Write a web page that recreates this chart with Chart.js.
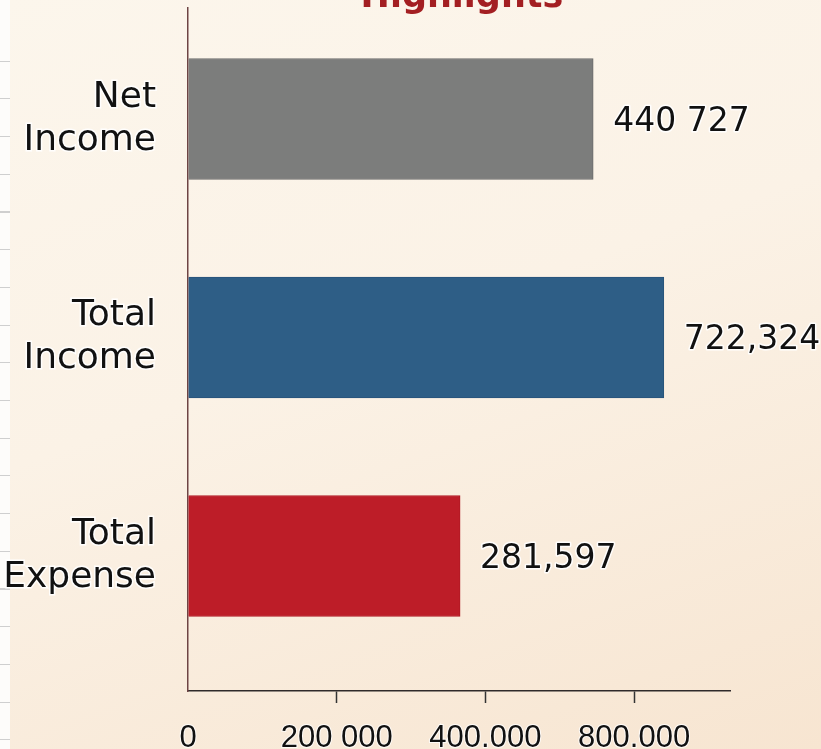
<!DOCTYPE html>
<html lang="en">

<head>
    <meta charset="UTF-8">
    <title>Highlights</title>
    <script src="https://cdn.jsdelivr.net/npm/chart.js"></script>
    <style>
        html, body {
            margin: 0;
            padding: 0;
        }
        .page {
            position: relative;
            width: 821px;
            height: 749px;
            overflow: hidden;
            background: linear-gradient(160deg, #fcf6ec 0%, #fbf2e6 45%, #f7e5d1 100%);
        }
        /* ruled strip at the left edge of the page */
        .strip {
            position: absolute;
            left: 0;
            top: 0;
            width: 10px;
            height: 749px;
            background-color: #fdfcfa;
            background-image: repeating-linear-gradient(to bottom, transparent 0, transparent 36.6px, #cfcfcf 36.6px, #cfcfcf 37.7px);
            background-position: 0 24px;
        }
        #myChart {
            position: absolute;
            left: 0;
            top: 0;
        }
    </style>
</head>

<body>

    <div class="page">
        <div class="strip"></div>
        <canvas id="myChart" width="821" height="749"></canvas>
    </div>

    <script>
        // 資料
        const chartTitle = 'Highlights';
        const categories = [['Net', 'Income'], ['Total', 'Income'], ['Total', 'Expense']];
        const barValues = [545000, 640000, 366000];          // bar length read against the x axis
        const valueLabels = ['440 727', '722,324', '281,597']; // numbers printed beside the bars
        const barColors = ['#7c7d7c', '#2e5e86', '#bd1d28'];
        const tickValues = [0, 200000, 400000, 600000];
        const tickLabels = ['0', '200 000', '400.000', '800.000'];

        // 標題與數值標籤
        const labelPlugin = {
            id: 'labelPlugin',
            afterDatasetsDraw(chart) {
                const ctx = chart.ctx;
                const area = chart.chartArea;
                ctx.save();
                ctx.font = 'bold 35px "DejaVu Sans"';
                ctx.fillStyle = '#a31f22';
                ctx.textAlign = 'center';
                ctx.textBaseline = 'alphabetic';
                ctx.fillText(chartTitle, (area.left + area.right) / 2 + 3, 7);

                ctx.font = '33px "DejaVu Sans"';
                ctx.textAlign = 'left';
                ctx.lineJoin = 'round';
                ctx.lineWidth = 3;
                ctx.strokeStyle = 'rgba(255,255,255,0.9)';
                ctx.fillStyle = '#111';
                chart.getDatasetMeta(0).data.forEach((bar, i) => {
                    const x = bar.x + 20;
                    const y = bar.y + 12;
                    ctx.strokeText(valueLabels[i], x, y);
                    ctx.fillText(valueLabels[i], x, y);
                });
                ctx.restore();
            }
        };

        // 不讓刻度標籤撐開繪圖區
        function noOverflow(scale) {
            scale.paddingTop = 0;
            scale.paddingBottom = 0;
            scale.paddingLeft = 0;
            scale.paddingRight = 0;
        }

        const ctx = document.getElementById('myChart').getContext('2d');

        const myChart = new Chart(ctx, {
            type: 'bar',
            data: {
                datasets: [{
                    data: barValues.map((v, i) => ({ x: v, y: i })),
                    backgroundColor: barColors,
                    borderColor: ['#6c6d6c', '#28537a', '#b01a24'],
                    borderWidth: 1,
                    barThickness: 121
                }]
            },
            options: {
                indexAxis: 'y',
                responsive: false,
                animation: false,
                layout: {
                    padding: { top: 8, right: 91, left: 0, bottom: 0 }
                },
                plugins: {
                    legend: { display: false },
                    tooltip: { enabled: false },
                    title: { display: false }
                },
                scales: {
                    x: {
                        type: 'linear',
                        min: 0,
                        max: 729000,
                        afterBuildTicks: scale => {
                            scale.ticks = tickValues.map(v => ({ value: v }));
                        },
                        afterFit: scale => { scale.height = 58; noOverflow(scale); },
                        grid: {
                            drawOnChartArea: false,
                            drawTicks: true,
                            tickLength: 12,
                            tickColor: c => c.index === 0 ? 'rgba(0,0,0,0)' : '#333',
                            tickWidth: 1.5
                        },
                        border: { display: true, color: '#2f2a2a', width: 1.5 },
                        ticks: {
                            padding: 17,
                            color: '#111',
                            font: { family: '"Liberation Sans"', size: 31, lineHeight: 1.2 },
                            textStrokeColor: 'rgba(255,255,255,0.8)',
                            textStrokeWidth: 2,
                            autoSkip: false,
                            maxRotation: 0,
                            callback: (value, index) => tickLabels[index]
                        }
                    },
                    y: {
                        type: 'linear',
                        reverse: true,
                        offset: false,
                        min: -0.508,
                        max: 2.618,
                        afterBuildTicks: scale => {
                            scale.ticks = categories.map((c, i) => ({ value: i }));
                        },
                        afterFit: scale => { scale.width = 188; noOverflow(scale); },
                        grid: { display: false, drawTicks: false, offset: false },
                        border: { display: true, color: '#6e4444', width: 1.5 },
                        ticks: {
                            padding: 32,
                            color: '#111',
                            font: { family: '"DejaVu Sans"', size: 36, lineHeight: 1.2 },
                            textStrokeColor: 'rgba(255,255,255,0.9)',
                            textStrokeWidth: 3,
                            autoSkip: false,
                            callback: (value, index) => categories[index]
                        }
                    }
                }
            },
            plugins: [labelPlugin]
        });
    </script>

</body>

</html>
